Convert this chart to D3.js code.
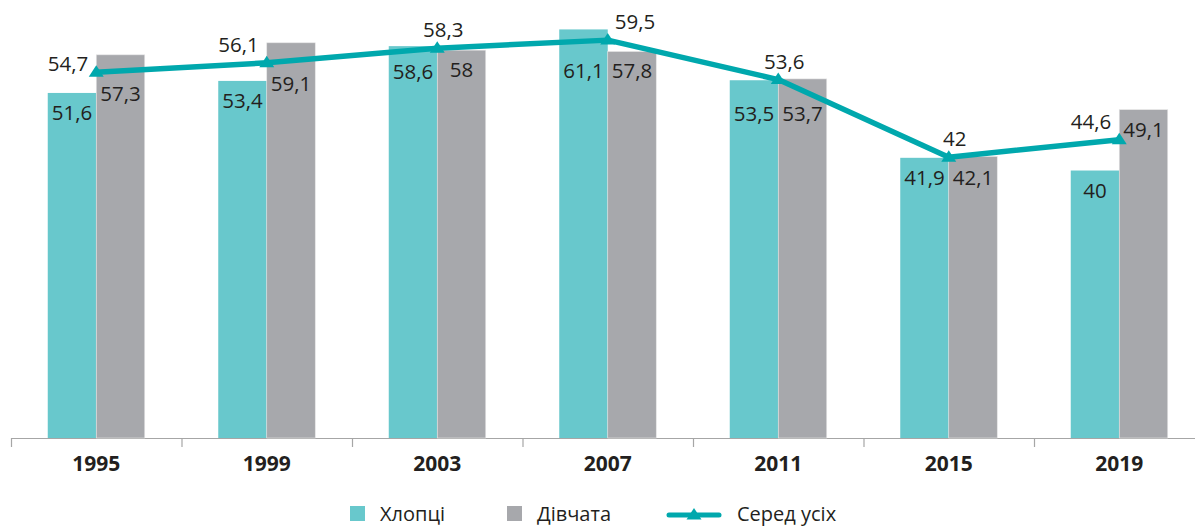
<!DOCTYPE html>
<html><head><meta charset="utf-8">
<script src="https://cdn.jsdelivr.net/npm/d3@7"></script>
<style>html,body{margin:0;padding:0;background:#fff;}svg{display:block;}text{font-family:"Open Sans",sans-serif;fill:#231f20;}</style>
</head><body>
<svg id="c" width="1195" height="526"></svg>
<script>
const years = ["1995","1999","2003","2007","2011","2015","2019"];
const boys = [51.6,53.4,58.6,61.1,53.5,41.9,40];
const girls = [57.3,59.1,58,57.8,53.7,42.1,49.1];
const all = [54.7,56.1,58.3,59.5,53.6,42,44.6];
const lineLabelAnchor = ["end","end","middle","start","middle","middle","end"];
const legendLabels = ["Хлопці","Дівчата","Серед усіх"];

const fmt = v => String(v).replace(".", ",");
const svg = d3.select("#c");
const cTeal = "#68c8cc", cGrey = "#a7a8ac", cLine = "#00a8ad";

const x = d3.scaleBand().domain(years).range([11, 11 + 7*170.5]).padding(0);
const y = d3.scaleLinear().domain([0, 65.5]).range([438, 0]);
const bw = 48.5;
const cx = d => x(d) + x.bandwidth()/2;

// axis
const axis = d3.axisBottom(x).tickSize(0).tickPadding(0);
const ag = svg.append("g").attr("transform","translate(0,438)").call(axis);
ag.select(".domain").remove();
ag.selectAll(".tick text").attr("y", 33).attr("dy", 0)
  .style("font-size","21px").style("font-weight","700").style("font-family","'Open Sans',sans-serif").attr("fill","#231f20");
svg.append("line").attr("x1",11).attr("x2",1195).attr("y1",438.5).attr("y2",438.5).attr("stroke","#a6a6a6").attr("stroke-width",1.2);
const bounds = years.map(d => x(d)).concat([x(years[6]) + x.bandwidth()]);
svg.selectAll(".tk").data(bounds).join("line").attr("class","tk")
  .attr("x1",d=>d+0.5).attr("x2",d=>d+0.5).attr("y1",438).attr("y2",447)
  .attr("stroke","#a6a6a6").attr("stroke-width",1.2);

// bars
svg.selectAll(".b").data(years).join("rect").attr("class","b")
  .attr("x", (d)=>cx(d)-bw).attr("width", bw)
  .attr("y", (d,i)=>y(boys[i])).attr("height",(d,i)=>y(0)-y(boys[i]))
  .attr("fill", cTeal);
svg.selectAll(".g").data(years).join("rect").attr("class","g")
  .attr("x", (d)=>cx(d)).attr("width", bw)
  .attr("y", (d,i)=>y(girls[i])).attr("height",(d,i)=>y(0)-y(girls[i]))
  .attr("fill", cGrey).attr("stroke","#e6e6e6").attr("stroke-width",0.6);

// line
const pts = years.map((d,i)=>[cx(d), y(all[i])]);
const lineYAt = px => {
  if (px < pts[0][0] || px > pts[pts.length-1][0]) return -Infinity;
  for (let i=0;i<pts.length-1;i++){
    const [x0,y0]=pts[i],[x1,y1]=pts[i+1];
    if (px>=x0 && px<=x1) return y0 + (y1-y0)*(px-x0)/(x1-x0);
  }
  return -Infinity;
};

// bar labels (placed below the line)
const bl = years.map((d,i)=>{
  const xb = cx(d)-bw/2, xg = cx(d)+bw/2;
  let yb = Math.max(y(boys[i])+27, lineYAt(xb)+29);
  let yg = Math.max(y(girls[i])+27, lineYAt(xg)+30);
  if (Math.abs(yb-yg) < 15 && Math.abs(yb-yg) > 6) { const m=Math.max(yb,yg); yb=m; yg=m; }
  return [{x:xb,y:yb,t:fmt(boys[i])},{x:xg,y:yg,t:fmt(girls[i])}];
}).flat();
svg.selectAll(".bl").data(bl).join("text").attr("class","bl")
  .attr("x",d=>d.x).attr("y",d=>d.y).attr("text-anchor","middle")
  .style("font-size","20.5px").text(d=>d.t);

svg.append("path").datum(pts).attr("d", d3.line()).attr("fill","none")
  .attr("stroke", cLine).attr("stroke-width",5.5).attr("stroke-linejoin","round");
const tri = "M0,-7L7.5,4.5L-7.5,4.5Z";
svg.selectAll(".m").data(pts).join("path").attr("class","m")
  .attr("d",tri).attr("transform",d=>`translate(${d[0]},${d[1]})`).attr("fill",cLine);

svg.selectAll(".ll").data(pts).join("text").attr("class","ll")
  .attr("x",(d,i)=>d[0] + (lineLabelAnchor[i]==="end"?-8:lineLabelAnchor[i]==="start"?7:6))
  .attr("y",(d,i)=>d[1] - (i===0?1:11))
  .attr("text-anchor",(d,i)=>lineLabelAnchor[i])
  .style("font-size","20.5px").text((d,i)=>fmt(all[i]));

// legend
const lg = svg.append("g");
lg.append("rect").attr("x",350).attr("y",506).attr("width",15).attr("height",15).attr("fill",cTeal);
lg.append("text").attr("x",380).attr("y",521).style("font-size","20px").text(legendLabels[0]);
lg.append("rect").attr("x",507).attr("y",506).attr("width",15).attr("height",15).attr("fill",cGrey);
lg.append("text").attr("x",537).attr("y",521).style("font-size","20px").text(legendLabels[1]);
lg.append("line").attr("x1",669).attr("x2",719).attr("y1",515).attr("y2",515).attr("stroke",cLine).attr("stroke-width",5).attr("stroke-linecap","round");
lg.append("path").attr("d",tri).attr("transform","translate(694,515)").attr("fill",cLine);
lg.append("text").attr("x",737).attr("y",521).style("font-size","20px").text(legendLabels[2]);
</script>
</body></html>
